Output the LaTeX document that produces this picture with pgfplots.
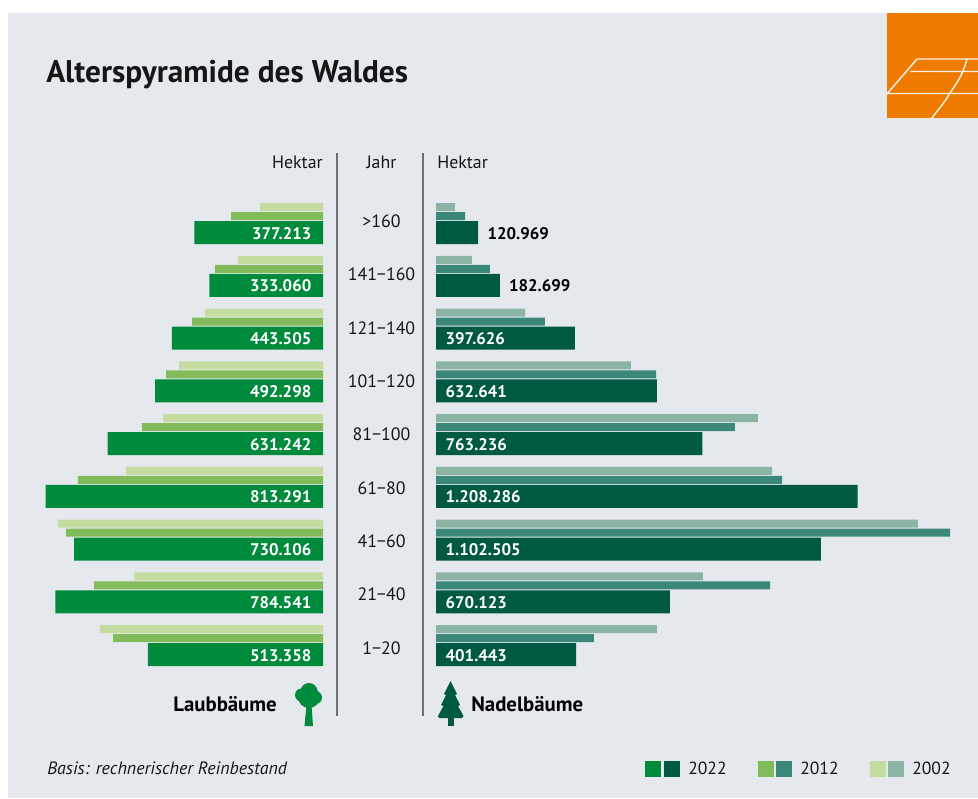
\documentclass[border=0pt]{standalone}
\usepackage{fontspec}
\setmainfont{PT Sans}
\usepackage{pgfplots}
\usepackage{pgfplotstable}
\pgfplotsset{compat=1.18}

\definecolor{panel}{HTML}{E5E9ED}
\definecolor{logo}{HTML}{EE7A00}
\definecolor{lau22}{HTML}{008A3C}
\definecolor{lau12}{HTML}{82BC5A}
\definecolor{lau02}{HTML}{C4DCA0}
\definecolor{nad22}{HTML}{005A41}
\definecolor{nad12}{HTML}{3C8878}
\definecolor{nad02}{HTML}{8CB4A5}
\definecolor{rule}{HTML}{6E6E6E}
\definecolor{ink}{HTML}{161616}

% y = row, 0 is the oldest class
\pgfplotstableread{
y a2022 a2012 a2002
0 377213 269800 184750
1 333060 316700 249000
2 443505 384000 346000
3 492298 460400 422000
4 631242 530800 469000
5 813291 718500 577700
6 730106 753700 777100
7 784541 671500 554000
8 513358 615800 654000
}\tabL
\pgfplotstableread{
y a2022 a2012 a2002
0 120969 83100 54400
1 182699 154700 103000
2 397626 312300 255000
3 632641 630400 558700
4 763236 856700 922600
5 1208286 991400 962800
6 1102505 1472800 1381000
7 670123 957000 765000
8 401443 452700 633200
}\tabR

\pgfplotsset{
  pyr/.style={
    axis lines=none, scale only axis,
    height=420pt,
    ymin=-1.7536, ymax=8.8626, y dir=reverse,
    clip=false,
    /pgf/number format/fixed,
    /pgf/number format/precision=0,
    /pgf/number format/1000 sep={.},
    /pgf/number format/assume math mode=true,
  },
  b22/.style={xbar, draw=none, fill=#1, bar width=17.25pt, bar shift=0pt},
  b12/.style={xbar, draw=none, fill=#1, bar width=6pt, bar shift=12.375pt},
  b02/.style={xbar, draw=none, fill=#1, bar width=6pt, bar shift=19.125pt},
  vals/.style={draw=none, mark=none, forget plot, point meta=explicit, nodes near coords,
    nodes near coords style={anchor=#1, inner sep=0pt, yshift=-0.6pt, font=\fontsize{12.6}{15}\selectfont\bfseries}},
}

\begin{document}
\begin{tikzpicture}[x=0.75pt,y=-0.75pt]
\fill[white] (0,0) rectangle (978,799);
\fill[panel] (8,13) rectangle (978,798);

% logo
\begin{scope}
\clip (887,13) rectangle (978,118);
\fill[logo] (887,13) rectangle (978,118);
\draw[white!90!logo, line width=1.1pt] (886,95) -- (917,59) -- (978,59)
  (910,71.5) -- (978,71.5) (887,93.5) -- (978,93.5)
  (967,59) .. controls (962,77) and (956,84) .. (950,93) .. controls (945,102) and (938,110) .. (931,119);
\end{scope}

\node[anchor=base west, font=\fontsize{23.5}{27}\selectfont\bfseries, text=ink, inner sep=0pt] at (46,83) {Alterspyramide des Waldes};

% column heads and rules
\draw[rule, line width=1.1pt] (337,153) -- (337,716) (423,153) -- (423,716);
\begin{scope}[every node/.style={font=\fontsize{13.4}{15}\selectfont, text=ink, inner sep=0pt}]
\node[anchor=base east] at (323,168) {Hektar};
\node[anchor=base] at (381.5,168) {Jahr};
\node[anchor=base west] at (437,168) {Hektar};
\node[anchor=base] at (381.5,227) {>160};
\node[anchor=base] at (381.5,280) {141−160};
\node[anchor=base] at (381.5,334) {121−140};
\node[anchor=base] at (381.5,387) {101−120};
\node[anchor=base] at (381.5,440) {81−100};
\node[anchor=base] at (381.5,494) {61−80};
\node[anchor=base] at (381.5,547) {41−60};
\node[anchor=base] at (381.5,600) {21−40};
\node[anchor=base] at (381.5,654) {1−20};
\end{scope}

% Laubbaeume
\begin{axis}[pyr, at={(0pt,-105pt)}, anchor=north west, width=242.25pt,
    x dir=reverse, xmin=0, xmax=947214]
\addplot[b02=lau02] table[x=a2002,y=y] {\tabL};
\addplot[b12=lau12] table[x=a2012,y=y] {\tabL};
\addplot[b22=lau22] table[x=a2022,y=y] {\tabL};
\addplot[vals=east, nodes near coords style={text=white}] table[x expr=33500,y=y,meta=a2022] {\tabL};
\end{axis}

% Nadelbaeume
\begin{axis}[pyr, at={(327pt,-105pt)}, anchor=north west, width=406.5pt,
    xmin=0, xmax=1553009]
\addplot[b02=nad02] table[x=a2002,y=y] {\tabR};
\addplot[b12=nad12] table[x=a2012,y=y] {\tabR};
\addplot[b22=nad22] table[x=a2022,y=y] {\tabR};
\addplot[vals=west, nodes near coords style={text=white}, restrict y to domain=2:8] table[x expr=27000,y=y,meta=a2022] {\tabR};
\addplot[vals=west, nodes near coords style={text=black}, restrict y to domain=0:1] table[x expr=\thisrow{a2022}+26000,y=y,meta=a2022] {\tabR};
\end{axis}

% tree labels and icons
\node[anchor=base east, font=\fontsize{15.6}{18}\selectfont\bfseries, text=black, inner sep=0pt] at (277,711) {Laubbäume};
\node[anchor=base west, font=\fontsize{15.6}{18}\selectfont\bfseries, text=black, inner sep=0pt] at (471,711) {Nadelbäume};
\fill[lau22] (304.5,726) -- (306.5,705) -- (311.5,705) -- (313,726) -- cycle;
\fill[lau22] (309,697) circle (11) (309,691.5) circle (8.5) (301.5,695) circle (6.5) (315.5,697.5) circle (6.5);
\fill[nad22] (447.5,726) -- (447.5,712) -- (453.5,712) -- (453.5,726) -- cycle;
\fill[nad22] (450.5,681) -- (457,694) -- (455,695) -- (460,705) -- (458,706) -- (463.5,716) -- (462,718) -- (439,718) -- (438,716) -- (443.5,706) -- (441,705) -- (446,695) -- (444,694) -- cycle;

% footer
\node[anchor=base west, font=\fontsize{13.4}{15}\selectfont\itshape, text=ink, inner sep=0pt] at (47,774) {Basis: rechnerischer Reinbestand};
\fill[lau22] (645,761) rectangle +(16,16);
\fill[nad22] (664,761) rectangle +(16,16);
\fill[lau12] (758,761) rectangle +(16,16);
\fill[nad12] (776,761) rectangle +(16,16);
\fill[lau02] (870,761) rectangle +(16,16);
\fill[nad02] (888,761) rectangle +(16,16);
\begin{scope}[every node/.style={anchor=base west, font=\fontsize{13.2}{15}\selectfont, text=ink, inner sep=0pt}]
\node at (688,774) {2022};
\node at (800,774) {2012};
\node at (912,774) {2002};
\end{scope}
\end{tikzpicture}
\end{document}
